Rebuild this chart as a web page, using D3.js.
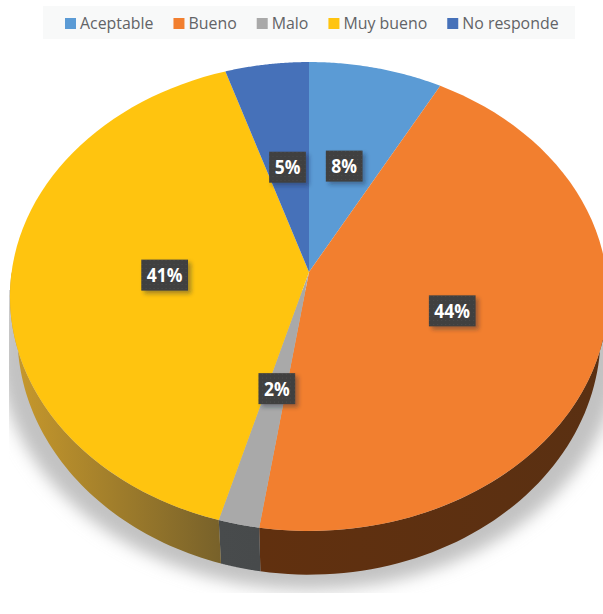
<!DOCTYPE html>
<html>
<head>
<meta charset="utf-8">
<style>
html,body{margin:0;padding:0;background:#fff}
svg{display:block}
text{font-family:"Open Sans",sans-serif}
</style>
<script src="https://cdn.jsdelivr.net/npm/d3@7/dist/d3.min.js"></script>
</head>
<body>
<svg id="chart" width="603" height="614"></svg>
<script>
const categories = ["Aceptable", "Bueno", "Malo", "Muy bueno", "No responde"];
const shares = [0.080, 0.444, 0.020, 0.406, 0.050];
const topColors = ["#5b9bd5", "#f27f2f", "#a9a9a9", "#ffc40f", "#4671b9"];
const sideFrom = ["#3a6385", "#61300f", "#484b4c", "#c99a2c", "#2c4878"];
const sideTo = ["#3a6385", "#5a3012", "#474a4b", "#76602a", "#2c4878"];

const svg = d3.select("#chart");
const defs = svg.append("defs");

// Perspective mapping of a unit disc onto screen space. The rim nearest the
// viewer is stretched, so the hub sits above the centre of the drawn ellipse.
function plane(x0, y0, a, b, p) {
  return (angle, r = 1) => {
    const u = r * Math.sin(angle), v = -r * Math.cos(angle), w = 1 - p * v;
    return [x0 + a * u / w, y0 + b * v / w];
  };
}
const topFace = plane(309, 272, 297.4, 231.9, 0.1045);
const baseFace = plane(309, 310, 290, 237, 0.1045);
const shadowFace = plane(309, 319, 310, 242.7, 0.1045);

const arcs = d3.pie().sort(null).value(d => d)(shares);
const line = d3.line();
const samples = (a0, a1) => d3.range(0, 61).map(i => a0 + (a1 - a0) * i / 60);

// Soft ground shadow, cut off by the edges of the plot area
const blur = defs.append("filter").attr("id", "ground")
  .attr("x", "-20%").attr("y", "-20%").attr("width", "140%").attr("height", "140%");
blur.append("feGaussianBlur").attr("stdDeviation", 8);
defs.append("clipPath").attr("id", "plotArea").append("rect")
  .attr("x", 9).attr("y", 290).attr("width", 594).attr("height", 303);
svg.append("g").attr("clip-path", "url(#plotArea)")
  .append("path")
  .attr("d", line(samples(0, 2 * Math.PI).map(t => shadowFace(t))) + "Z")
  .attr("fill", "#c2c2c2")
  .attr("filter", "url(#ground)");

// Side wall of the disc, slice by slice
const sideGroup = svg.append("g");
arcs.forEach((d, i) => {
  const id = "side" + i;
  const g = defs.append("linearGradient").attr("id", id)
    .attr("gradientUnits", "userSpaceOnUse");
  const ends = samples(d.startAngle, d.endAngle).map(t => topFace(t)[0]);
  g.attr("x1", d3.min(ends)).attr("x2", d3.max(ends)).attr("y1", 0).attr("y2", 0);
  g.append("stop").attr("offset", 0).attr("stop-color", sideFrom[i]);
  g.append("stop").attr("offset", 1).attr("stop-color", sideTo[i]);
  // Only the part of the rim facing the viewer is visible
  const a0 = Math.max(d.startAngle, Math.PI / 2), a1 = Math.min(d.endAngle, 3 * Math.PI / 2);
  if (a1 <= a0) return;
  const ts = samples(a0, a1);
  const pts = ts.map(t => topFace(t)).concat(ts.slice().reverse().map(t => baseFace(t)));
  sideGroup.append("path").attr("d", line(pts) + "Z").attr("fill", `url(#${id})`);
});

// Top surface of each slice
svg.append("g").selectAll("path").data(arcs).join("path")
  .attr("d", d => line([topFace(0, 0)].concat(samples(d.startAngle, d.endAngle).map(t => topFace(t)))) + "Z")
  .attr("fill", (d, i) => topColors[i]);

// Value labels on dotted dark plates
const dots = defs.append("pattern").attr("id", "plate")
  .attr("patternUnits", "userSpaceOnUse").attr("width", 4).attr("height", 4);
dots.append("rect").attr("width", 4).attr("height", 4).attr("fill", "#404040");
dots.append("rect").attr("x", 1).attr("y", 1).attr("width", 1).attr("height", 1).attr("fill", "#4c4c4c");
const plateShadow = defs.append("filter").attr("id", "plateShadow")
  .attr("x", "-30%").attr("y", "-30%").attr("width", "170%").attr("height", "170%");
plateShadow.append("feDropShadow").attr("dx", 3).attr("dy", 3).attr("stdDeviation", 2)
  .attr("flood-color", "#1d2c3c").attr("flood-opacity", 0.4);

const pct = d3.format(".0%");
const labelSquash = 0.92;
const labels = svg.append("g").selectAll("g").data(arcs).join("g")
  .attr("transform", d => {
    const mid = (d.startAngle + d.endAngle) / 2;
    const [x, y] = topFace(mid, mid > Math.PI ? 0.485 : 0.5);
    return `translate(${x},${y + 1})`;
  });
labels.append("text")
  .attr("text-anchor", "middle")
  .attr("transform", `translate(0,7) scale(${labelSquash},1)`)
  .attr("fill", "#fff").attr("font-size", 19).attr("font-weight", 700)
  .text(d => pct(d.data));
labels.insert("rect", "text")
  .each(function () {
    const w = this.parentNode.querySelector("text").getComputedTextLength() * labelSquash + 11;
    d3.select(this).attr("x", -w / 2).attr("width", w);
  })
  .attr("y", -15.5).attr("height", 31)
  .attr("fill", "url(#plate)").attr("filter", "url(#plateShadow)");

// Legend strip
svg.insert("rect", ":first-child")
  .attr("x", 43).attr("y", 6).attr("width", 532).attr("height", 33).attr("fill", "#f8f9f9");
const legend = svg.append("g");
let cursor = 65;
categories.forEach((name, i) => {
  legend.append("rect").attr("x", cursor).attr("y", 18).attr("width", 11).attr("height", 11)
    .attr("fill", topColors[i]);
  const t = legend.append("text").attr("x", cursor + 15).attr("y", 29)
    .attr("font-size", 15.9).attr("fill", "#626366").text(name);
  cursor += 15 + t.node().getComputedTextLength() + 20;
});
</script>
</body>
</html>
